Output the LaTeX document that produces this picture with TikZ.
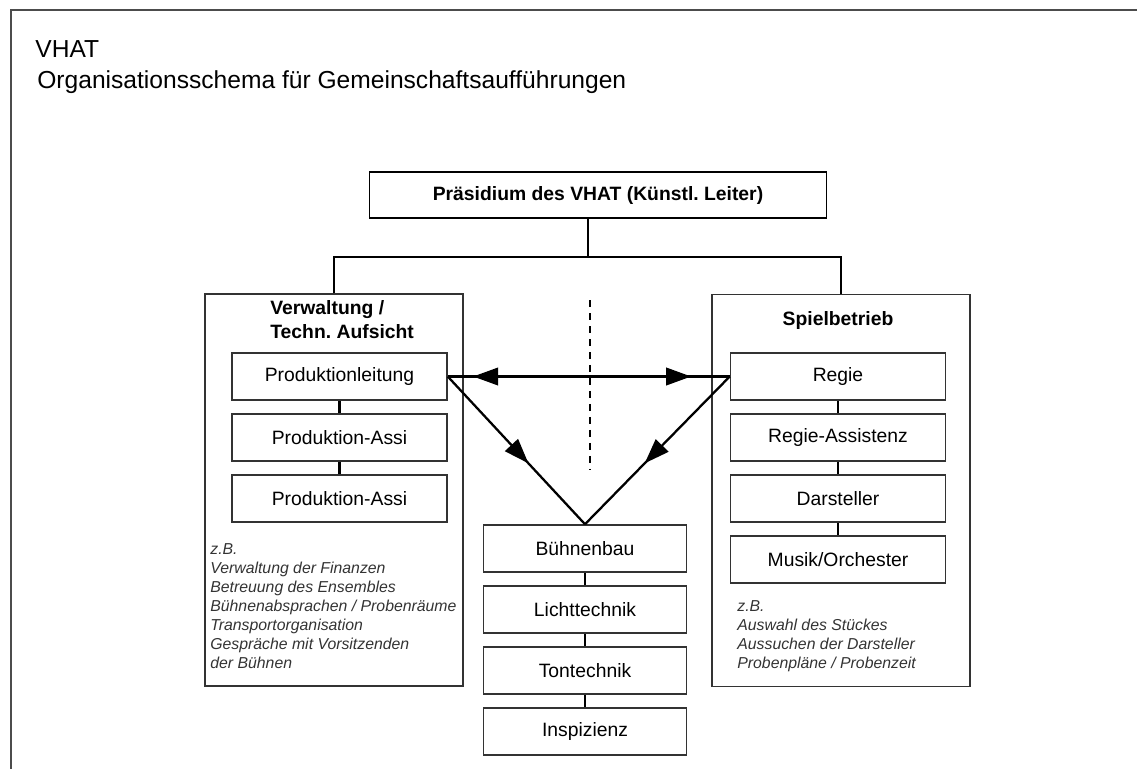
\documentclass[tikz,border=0pt]{standalone}
\usepackage{fontspec}
\setmainfont{Liberation Sans}
\usepackage{tikz}
\usetikzlibrary{positioning, arrows.meta, decorations.markings}
\frenchspacing
\tikzstyle{titel} =
[inner sep = 0pt, font = \fontsize{14}{16}\selectfont]
\tikzstyle{leitung} =
[rectangle, minimum width = 9.14cm, minimum height = 0.92cm,
text centered, draw=black, line width = 0.9pt,
font = \fontsize{11}{13}\selectfont\bfseries]
\tikzstyle{bereich} =
[rectangle, minimum width = 5.16cm, minimum height = 7.84cm,
draw=black!80, line width = 0.9pt]
\tikzstyle{kopf} =
[inner sep = 0pt, font = \fontsize{11}{14}\selectfont\bfseries]
\tikzstyle{stelle} =
[rectangle, minimum width = 4.3cm, minimum height = 0.94cm,
text centered, draw=black!80, line width = 0.9pt,
font = \fontsize{11}{13}\selectfont]
\tikzstyle{technik} = [stelle, minimum width = 4.06cm]
\tikzstyle{notiz} =
[align = left, inner sep = 0pt, text = black!80,
font = \fontsize{9}{10.8}\selectfont\itshape]
\tikzstyle{line} = [draw, line width = 1.3pt]
\tikzstyle{trennung} = [draw, line width = 1.2pt, dash pattern = on 1.4mm off 1.2mm]
\tikzstyle{pfeil} =
[postaction = {decorate, decoration = {markings,
mark = at position 0.59 with {\arrow{Triangle[length=5mm, width=3.5mm]}}}}]
\tikzstyle{doppelpfeil} =
[postaction = {decorate, decoration = {markings,
mark = at position 0.09 with {\arrowreversed{Triangle[length=5mm, width=3.5mm]}},
mark = at position 0.863 with {\arrow{Triangle[length=5mm, width=3.5mm]}}}}]

\begin{document}
\begin{tikzpicture}[x = 0.02cm, y = -0.02cm]
  \useasboundingbox (0,0) rectangle (1137,769);
  % frame and heading
  \draw [line width = 1.2pt, black!70] (1137,10) -- (11,10) -- (11,769);
  \node [titel, anchor = base west] (vhat) at (35,57) {VHAT};
  \node [titel, anchor = base west] (schema) at (37,88)
   {Organisationsschema für Gemeinschaftsaufführungen};
  %
  % 1st level nodes
  \node [leitung] (praes) at (598,195) {Präsidium des VHAT (Künstl. Leiter)};
  \node [bereich] (verw) at (334,490) {};
  \node [bereich] (spiel) at (841,490.5) {};
  \node [kopf, align = left, anchor = north west] (verwkopf) at (270,300)
   {Verwaltung /\\ Techn. Aufsicht};
  \node [kopf, anchor = base] (spielkopf) at (838,325) {Spielbetrieb};
  \coordinate (hub) at (588,257);
  % 1st level edges
  \path [line] (praes.south -| hub) -- (hub);
  \path [line] (verw.north) |- (hub) -| (spiel.north);
  %
  % 2nd level nodes
  \node [stelle] (prod) at (339.5,376.5) {Produktionleitung};
  \node [stelle, below = 0.25cm of prod] (assi1) {Produktion-Assi};
  \node [stelle, below = 0.25cm of assi1] (assi2) {Produktion-Assi};
  \node [stelle] (regie) at (838,376.5) {Regie};
  \node [stelle, below = 0.25cm of regie] (regass) {Regie-Assistenz};
  \node [stelle, below = 0.25cm of regass] (darst) {Darsteller};
  \node [stelle, below = 0.25cm of darst] (musik) {Musik/Orchester};
  \node [technik] (bbau) at (585,548.5) {Bühnenbau};
  \node [technik, below = 0.25cm of bbau] (licht) {Lichttechnik};
  \node [technik, below = 0.25cm of licht] (ton) {Tontechnik};
  \node [technik, below = 0.25cm of ton] (insp) {Inspizienz};
  \node [notiz, anchor = north west] (verwnotiz) at (210,543)
   {z.B.\\ Verwaltung der Finanzen\\ Betreuung des Ensembles\\
    Bühnenabsprachen / Probenräume\\ Transportorganisation\\
    Gespräche mit Vorsitzenden\\ der Bühnen};
  \node [notiz, anchor = north west] (spielnotiz) at (737,600)
   {z.B.\\ Auswahl des Stückes\\ Aussuchen der Darsteller\\
    Probenpläne / Probenzeit};
  % 2nd level edges
  \path [line] (prod) -- (assi1);
  \path [line] (assi1) -- (assi2);
  \path [line] (regie) -- (regass);
  \path [line] (regass) -- (darst);
  \path [line] (darst) -- (musik);
  \path [line] (bbau) -- (licht);
  \path [line] (licht) -- (ton);
  \path [line] (ton) -- (insp);
  %
  % arrows in the middle
  \coordinate (dtop) at (590,300);
  \coordinate (dbot) at (590,470);
  \path [trennung] (dtop) -- (dbot);
  \path [line, doppelpfeil] (prod.east) -- (regie.west);
  \path [line, pfeil] (prod.east) -- (bbau.north);
  \path [line, pfeil] (regie.west) -- (bbau.north);
\end{tikzpicture}
\end{document}
